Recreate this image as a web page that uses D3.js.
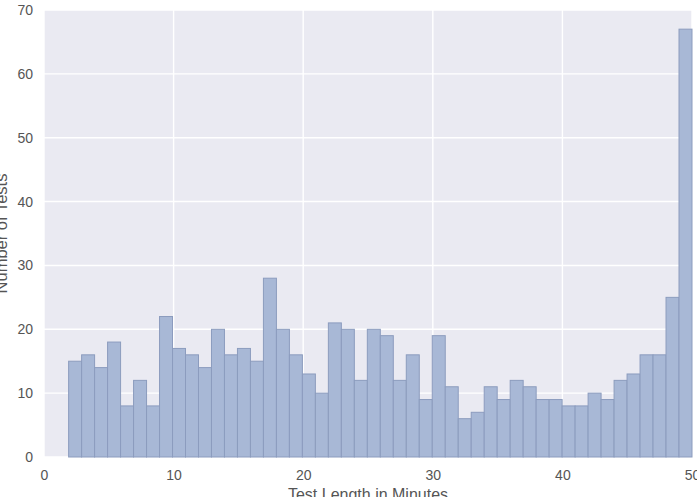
<!DOCTYPE html>
<html>
<head>
<meta charset="utf-8">
<script src="https://cdn.jsdelivr.net/npm/d3@7"></script>
<style>
  body { margin: 0; background: #fff; }
  text { font-family: "Liberation Sans", Arial, sans-serif; }
</style>
</head>
<body>
<div id="chart"></div>
<script>
// histogram of test lengths, 48 bins between binStart and binEnd
const binStart = 1.9;
const binEnd = 50;
const counts = [15, 16, 14, 18, 8, 12, 8, 22, 17, 16, 14, 20, 16, 17, 15, 28,
                20, 16, 13, 10, 21, 20, 12, 20, 19, 12, 16, 9, 19, 11, 6, 7,
                11, 9, 12, 11, 9, 9, 8, 8, 10, 9, 12, 13, 16, 16, 25, 67];
const xTicks = [0, 10, 20, 30, 40, 50];
const yTicks = [0, 10, 20, 30, 40, 50, 60, 70];

const width = 697, height = 497;
const margin = { top: 10, right: 5, bottom: 40, left: 44 };

const svg = d3.select("#chart").append("svg")
  .attr("width", width)
  .attr("height", height);

const x = d3.scaleLinear().domain([0, 50]).range([margin.left, width - margin.right]);
const y = d3.scaleLinear().domain([0, 70]).range([height - margin.bottom, margin.top]);

// background
svg.append("rect")
  .attr("x", x(0)).attr("y", y(70))
  .attr("width", x(50) - x(0)).attr("height", y(0) - y(70))
  .attr("fill", "#EAEAF2");

// grid
svg.append("g").selectAll("line")
  .data(yTicks)
  .join("line")
  .attr("x1", x(0)).attr("x2", x(50))
  .attr("y1", d => y(d)).attr("y2", d => y(d))
  .attr("stroke", "#fff").attr("stroke-width", 1.4);

svg.append("g").selectAll("line")
  .data(xTicks)
  .join("line")
  .attr("y1", y(0)).attr("y2", y(70))
  .attr("x1", d => x(d)).attr("x2", d => x(d))
  .attr("stroke", "#fff").attr("stroke-width", 1.4);

// bars
const step = (binEnd - binStart) / counts.length;
const bins = counts.map((c, i) => ({ x0: binStart + i * step, x1: binStart + (i + 1) * step, count: c }));

svg.append("g").selectAll("rect")
  .data(bins)
  .join("rect")
  .attr("x", d => x(d.x0))
  .attr("y", d => y(d.count))
  .attr("width", d => x(d.x1) - x(d.x0))
  .attr("height", d => y(0) - y(d.count))
  .attr("fill", "rgb(168,184,214)")
  .attr("stroke", "rgb(140,156,190)")
  .attr("stroke-width", 1);

// axes (labels only, seaborn style)
const xAxis = d3.axisBottom(x).tickValues(xTicks).tickSize(0).tickPadding(13);
const yAxis = d3.axisLeft(y).tickValues(yTicks).tickSize(0).tickPadding(11);

const gx = svg.append("g").attr("transform", `translate(0,${y(0)})`).call(xAxis);
const gy = svg.append("g").attr("transform", `translate(${x(0)},0)`).call(yAxis);
[gx, gy].forEach(g => {
  g.select(".domain").remove();
  g.selectAll("text").attr("fill", "#555").style("font-size", "14px");
});

// axis titles
svg.append("text")
  .attr("x", (x(0) + x(50)) / 2)
  .attr("y", 499.5)
  .attr("text-anchor", "middle")
  .attr("fill", "#555")
  .style("font-size", "16px")
  .text("Test Length in Minutes");

svg.append("text")
  .attr("transform", `translate(7,${(y(0) + y(70)) / 2}) rotate(-90)`)
  .attr("text-anchor", "middle")
  .attr("fill", "#555")
  .style("font-size", "16.5px")
  .text("Number of Tests");
</script>
</body>
</html>
